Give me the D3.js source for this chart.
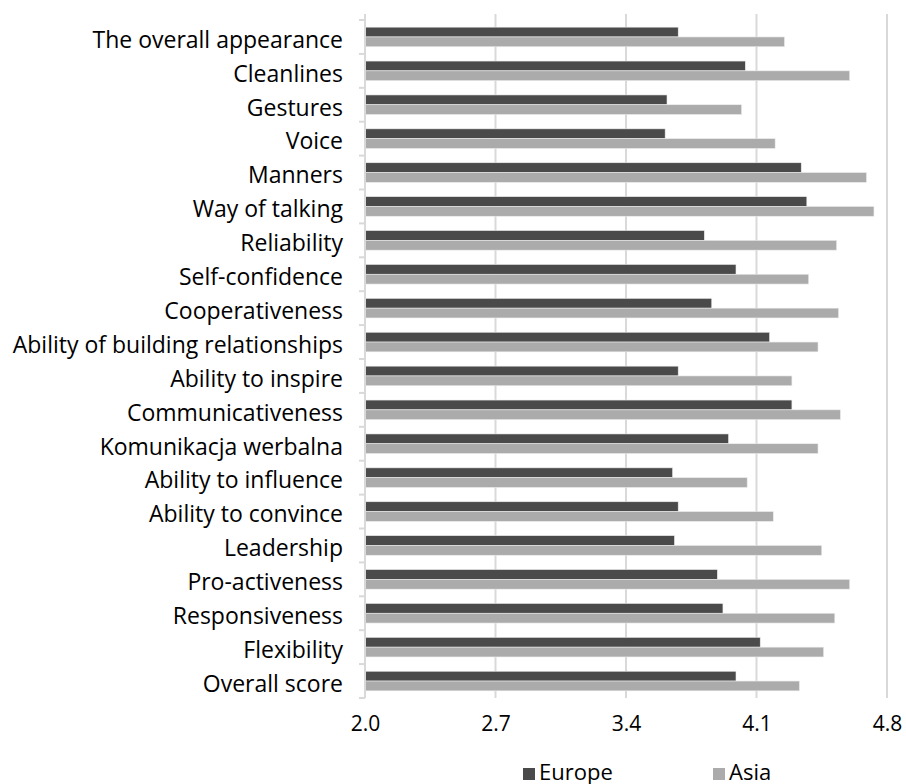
<!DOCTYPE html>
<html lang="en">
<head>
<meta charset="UTF-8">
<title>Europe vs Asia</title>
<script src="https://cdn.jsdelivr.net/npm/d3@7"></script>
<style>
  body { margin: 0; background: #fff; }
  text { font-family: "Open Sans", sans-serif; }
</style>
</head>
<body>
<svg width="906" height="784" id="mainsvg"></svg>
<script>
const categories = ['The overall appearance', 'Cleanlines', 'Gestures', 'Voice', 'Manners',
  'Way of talking', 'Reliability', 'Self-confidence', 'Cooperativeness',
  'Ability of building relationships', 'Ability to inspire', 'Communicativeness',
  'Komunikacja werbalna', 'Ability to influence', 'Ability to convince', 'Leadership',
  'Pro-activeness', 'Responsiveness', 'Flexibility', 'Overall score'];
const europe = [3.68, 4.04, 3.62, 3.61, 4.34, 4.37, 3.82, 3.99, 3.86, 4.17,
  3.68, 4.29, 3.95, 3.65, 3.68, 3.66, 3.89, 3.92, 4.12, 3.99];
const asia = [4.25, 4.60, 4.02, 4.20, 4.69, 4.73, 4.53, 4.38, 4.54, 4.43,
  4.29, 4.55, 4.43, 4.05, 4.19, 4.45, 4.60, 4.52, 4.46, 4.33];
const seriesNames = ['Europe', 'Asia'];
const xTicks = [2.0, 2.7, 3.4, 4.1, 4.8];

const colors = { Europe: '#4a4a4a', Asia: '#ababab' };

const svg = d3.select('#mainsvg');
const margin = { top: 20, left: 365, right: 19, bottom: 86 };
const width = +svg.attr('width');
const height = +svg.attr('height');
const innerWidth = width - margin.left - margin.right;
const innerHeight = height - margin.top - margin.bottom;

const g = svg.append('g').attr('transform', `translate(${margin.left},${margin.top})`);

const xScale = d3.scaleLinear().domain([2.0, 4.8]).range([0, innerWidth]);
const yScale = d3.scaleBand().domain(categories).range([0, innerHeight]).padding(0);
const ySub = d3.scaleBand().domain(seriesNames).range([0, yScale.bandwidth()])
  .paddingInner(0).paddingOuter(0.73);

// vertical gridlines
g.append('g').selectAll('line').data(xTicks.slice(1)).join('line')
  .attr('x1', d => xScale(d)).attr('x2', d => xScale(d))
  .attr('y1', -6).attr('y2', innerHeight)
  .attr('stroke', '#d9d9d9').attr('stroke-width', 2);

// bars
const rows = categories.map((c, i) => ({ cat: c, Europe: europe[i], Asia: asia[i] }));
const rowG = g.append('g').selectAll('g').data(rows).join('g')
  .attr('transform', d => `translate(0,${yScale(d.cat)})`);
rowG.selectAll('rect').data(d => seriesNames.map(s => ({ s, v: d[s] }))).join('rect')
  .attr('x', xScale(2.0))
  .attr('y', d => ySub(d.s))
  .attr('width', d => xScale(d.v) - xScale(2.0))
  .attr('height', ySub.bandwidth())
  .attr('fill', d => colors[d.s])
  .attr('stroke', '#ececec').attr('stroke-width', 0.6);

// y axis
const yAxis = d3.axisLeft(yScale).tickSize(0).tickPadding(22);
const yG = g.append('g').call(yAxis);
yG.select('.domain').attr('stroke', '#d9d9d9').attr('stroke-width', 2)
  .attr('d', `M0,-6V${innerHeight}`);
yG.selectAll('text').attr('font-size', 23).attr('fill', '#000')
  .attr('font-family', '"Open Sans", sans-serif').attr('dy', '0.47em');
// category boundary ticks
g.append('g').selectAll('line').data(d3.range(categories.length + 1)).join('line')
  .attr('x1', -6).attr('x2', 0)
  .attr('y1', i => i * yScale.step()).attr('y2', i => i * yScale.step())
  .attr('stroke', '#d9d9d9').attr('stroke-width', 2);

// x axis
const xAxis = d3.axisBottom(xScale).tickValues(xTicks).tickFormat(d3.format('.1f'))
  .tickSize(0).tickPadding(18);
const xG = g.append('g').attr('transform', `translate(0,${innerHeight})`).call(xAxis);
xG.select('.domain').remove();
xG.selectAll('text').attr('font-size', 21).attr('fill', '#000')
  .attr('font-family', '"Open Sans", sans-serif');

// legend
const legendX = d3.scaleOrdinal().domain(seriesNames).range([523, 713]);
const item = svg.append('g').selectAll('g').data(seriesNames).join('g')
  .attr('transform', d => `translate(${legendX(d)},780)`);
item.append('rect').attr('x', 0).attr('y', -12).attr('width', 12).attr('height', 12)
  .attr('fill', d => colors[d]);
item.append('text').attr('x', 16).attr('font-size', 22)
  .attr('fill', '#000').text(d => d);
</script>
</body>
</html>
